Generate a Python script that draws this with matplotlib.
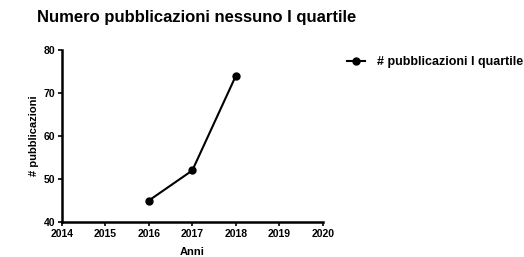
import matplotlib.pyplot as plt

years = [2016, 2017, 2018]
counts = [45, 52, 74]
xticks = [2014, 2015, 2016, 2017, 2018, 2019, 2020]
yticks = [40, 50, 60, 70, 80]

plt.rcParams['font.family'] = 'Liberation Sans'
plt.rcParams['font.weight'] = 'bold'
fig = plt.figure(figsize=(5.24, 2.57), dpi=100)
ax = fig.add_axes([0.118, 0.136, 0.498, 0.669])

ax.plot(years, counts, color="black", marker="o", markersize=5, linewidth=1.5,
        label="# pubblicazioni I quartile")
ax.set_xlim(2014, 2020)
ax.set_ylim(40, 80)
ax.set_xticks(xticks)
ax.set_yticks(yticks)
ax.tick_params(labelsize=7.5, length=3, width=1.2, pad=2)
for s in ["top", "right"]:
    ax.spines[s].set_visible(False)
for s in ["left", "bottom"]:
    ax.spines[s].set_linewidth(1.8)
ax.set_xlabel("Anni", fontsize=8, fontweight="bold", labelpad=6)
ax.set_ylabel("# pubblicazioni", fontsize=8, fontweight="bold", labelpad=3)

fig.text(0.07, 0.932, "Numero pubblicazioni nessuno I quartile", fontsize=12,
         fontweight="bold", va="center")
ax.legend(loc="upper left", bbox_to_anchor=(1.05, 1.03), frameon=False,
          prop={"size": 9, "weight": "bold"}, handlelength=1.4, handletextpad=1.0)

fig.savefig("out.png", dpi=100)
